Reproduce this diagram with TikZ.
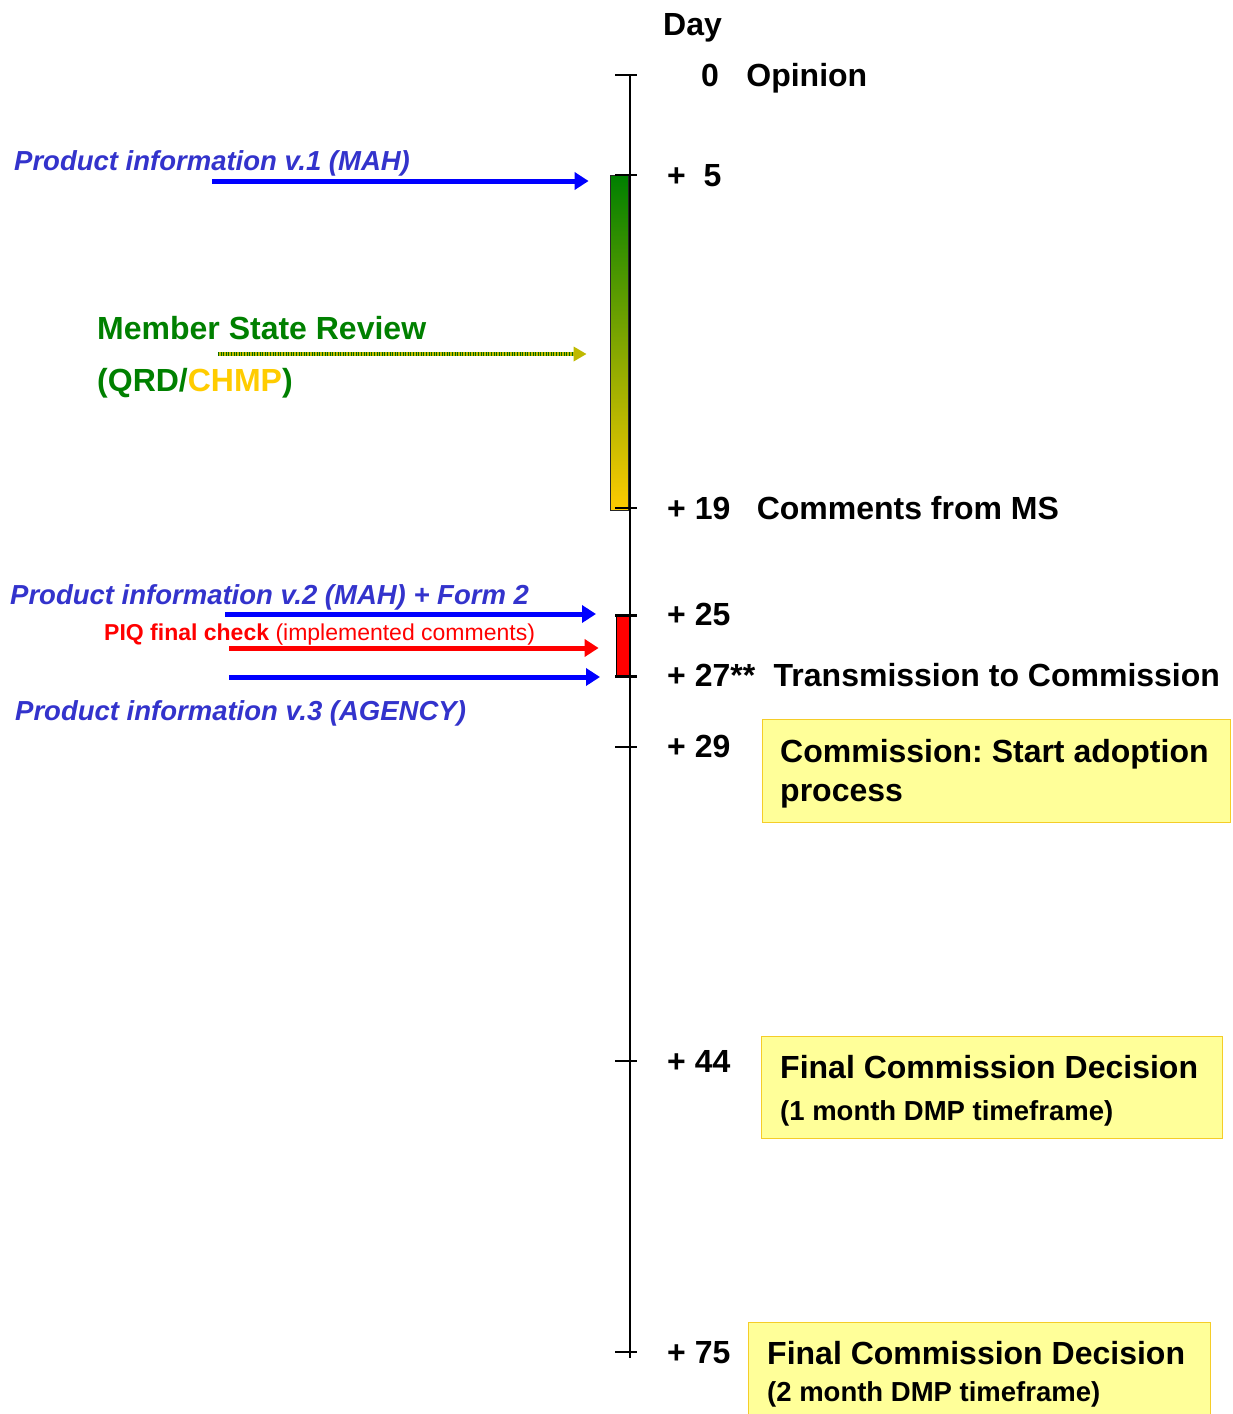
\documentclass[tikz,border=0pt]{standalone}
\usepackage{fontspec}
\setmainfont{Liberation Sans}
\usetikzlibrary{arrows.meta, positioning, calc}
\frenchspacing

\definecolor{piblue}{RGB}{51,51,204}
\definecolor{msgreen}{RGB}{0,128,0}
\definecolor{msyellow}{RGB}{255,204,0}
\definecolor{boxfill}{RGB}{255,255,153}
\definecolor{boxline}{RGB}{245,205,40}

\newcommand{\bigfont}{\fontsize{32}{38}\selectfont\bfseries}
\newcommand{\pifont}{\fontsize{27.5}{33}\selectfont\bfseries\itshape}
\newcommand{\midfont}{\fontsize{27.5}{33}\selectfont\bfseries}
\newcommand{\piqfont}{\fontsize{23}{28}\selectfont}

\begin{document}
\begin{tikzpicture}[
    x=1pt, y=-1pt,
    daylbl/.style  = {anchor=base west, inner sep=0pt, font=\bigfont},
    pitext/.style  = {anchor=base west, inner sep=0pt, font=\pifont, text=piblue},
    mstext/.style  = {anchor=base west, inner sep=0pt, font=\bigfont, text=msgreen},
    boxtxt/.style  = {anchor=base west, inner sep=0pt, font=\bigfont},
    ybox/.style    = {rectangle, draw=boxline, fill=boxfill, line width=1.3pt,
                      anchor=north west, inner sep=0pt},
    daytick/.style = {line width=2pt},
    parrow/.style  = {-{Triangle[length=14pt, width=17pt]}, line width=5pt, blue},
    rarrow/.style  = {-{Triangle[length=14pt, width=17pt]}, line width=5pt, red},
    msarrow/.style = {-{Triangle[length=13pt, width=14pt]}, line width=4pt,
                      msyellow!75!msgreen},
    mshatch/.style = {line width=4pt, msgreen!80!black, dash pattern=on 1pt off 1.6pt}
]
\useasboundingbox[fill=white] (0,0) rectangle (1232,1414);

%% -- Time axis ---------------------------------------------
\foreach \d/\y in {0/75, 5/175, 19/508, 25/615, 27/676, 29/747, 44/1061, 75/1352}
  \coordinate (d\d) at (630,\y);
\draw[line width=1.6pt] (d0) -- ($(d75)+(0,6)$);

%% -- Review bars -------------------------------------------
\node[draw=black!85, line width=1.4pt, top color=msgreen, bottom color=msyellow,
      minimum width=18pt, minimum height=335pt, inner sep=0pt,
      anchor=north east] (review) at ($(d5)+(-1,0)$) {};
\node[draw=black, line width=1.4pt, fill=red, minimum width=13pt,
      minimum height=59pt, inner sep=0pt, anchor=north east] (piq_bar) at ($(d25)+(0,1)$) {};

\foreach \d in {0,5,19,29,44,75}
  \draw[daytick] ($(d\d)+(-15,0)$) -- ($(d\d)+(7,0)$);
\foreach \d in {25,27}
  \draw[line width=3pt] ($(d\d)+(-15,0)$) -- ($(d\d)+(7,0)$);

%% -- Day labels --------------------------------------------
\node[daylbl] (lbl_day) at (663,35) {Day};
\node[daylbl] (lbl_d0)  at (701,86) {0};
\node[daylbl, base right=27pt of lbl_d0] (lbl_opinion) {Opinion};
\node[daylbl] (lbl_d5)  at (667,186) {+\ \ 5};
\node[daylbl] (lbl_d19) at (667,519) {+ 19};
\node[daylbl, base right=26pt of lbl_d19] (lbl_comments) {Comments from MS};
\node[daylbl] (lbl_d25) at (667,625) {+ 25};
\node[daylbl] (lbl_d27) at (667,686) {+ 27**};
\node[daylbl, base right=18pt of lbl_d27] (lbl_trans) {Transmission to Commission};
\node[daylbl] (lbl_d29) at (667,757) {+ 29};
\node[daylbl] (lbl_d44) at (667,1072) {+ 44};
\node[daylbl] (lbl_d75) at (667,1363) {+ 75};

%% -- Commission boxes --------------------------------------
\node[ybox, minimum width=468pt, minimum height=103pt] (adopt_box) at (762,719) {};
\node[boxtxt] (adopt_l1) at (780,762) {Commission: Start adoption};
\node[boxtxt] (adopt_l2) at (780,801) {process};

\node[ybox, minimum width=461pt, minimum height=102pt] (fcd1_box) at (761,1036) {};
\node[boxtxt] (fcd1_l1) at (780,1078) {Final Commission Decision};
\node[boxtxt, font=\midfont] (fcd1_l2) at (780,1120) {(1 month DMP timeframe)};

\node[ybox, minimum width=462pt, minimum height=110pt] (fcd2_box) at (748,1322) {};
\node[boxtxt] (fcd2_l1) at (767,1364) {Final Commission Decision};
\node[boxtxt, font=\midfont] (fcd2_l2) at (767,1401) {(2 month DMP timeframe)};

%% -- Left side texts ---------------------------------------
\node[pitext] (pi_v1) at (14,170) {Product information v.1 (MAH)};
\node[mstext] (ms_title) at (97,339) {Member State Review};
\node[mstext] (ms_sub) at ($(ms_title.base west)+(0,52)$)
      {(QRD/\textcolor{msyellow}{CHMP})};
\node[pitext] (pi_v2) at (10,604) {Product information v.2 (MAH) + Form 2};
\node[anchor=base west, inner sep=0pt, font=\piqfont, text=red] (piq_txt) at (104,640)
      {\textbf{PIQ final check} (implemented comments)};
\node[pitext] (pi_v3) at (15,720) {Product information v.3 (AGENCY)};

%% -- Arrows to the axis ------------------------------------
\coordinate (pi1_tail) at (212,181);
\coordinate (pi1_head) at ($(review.north west |- pi1_tail)+(-21,0)$);
\draw[parrow] (pi1_tail) -- (pi1_head);

\coordinate (ms_tail) at (218,354);
\coordinate (ms_head) at ($(review.west |- ms_tail)+(-23,0)$);
\draw[msarrow] (ms_tail) -- (ms_head);
\draw[mshatch, shorten >=13pt] (ms_tail) -- (ms_head);

\coordinate (pi2_tail) at (225,614);
\coordinate (pi2_head) at (596,614);
\draw[parrow] (pi2_tail) -- (pi2_head);

\coordinate (piq_tail) at (229,648);
\coordinate (piq_head) at ($(piq_bar.west |- piq_tail)+(-17,0)$);
\draw[rarrow] (piq_tail) -- (piq_head);

\coordinate (pi3_tail) at (229,677);
\coordinate (pi3_head) at (600,677);
\draw[parrow] (pi3_tail) -- (pi3_head);

\end{tikzpicture}
\end{document}
